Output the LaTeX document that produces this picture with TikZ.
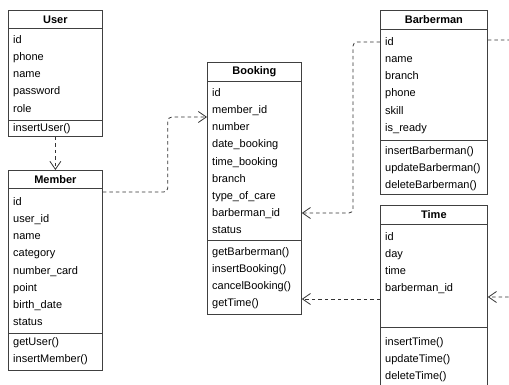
\documentclass[tikz,border=0pt]{standalone}
\usepackage{fontspec}
\setmainfont{Liberation Sans}
\usetikzlibrary{arrows.meta}

\tikzset{
    cls/.style={draw=black!75, line width=0.8pt, fill=white, anchor=north west, inner sep=0pt},
    ttl/.style={cls, font=\bfseries\fontsize{11}{13}\selectfont},
    rows/.style={anchor=north west, align=left, inner sep=0pt, font=\fontsize{11}{17.1}\selectfont},
    dep/.style={draw=black!80, line width=0.8pt, dash pattern=on 3.5pt off 3pt, rounded corners=4pt, -{Straight Barb[length=8pt, width=11pt]}}
}

\begin{document}
\begin{tikzpicture}[x=1pt, y=-1pt]
    \useasboundingbox (0,0) rectangle (509,385);
    \clip (0,0) rectangle (509,385);
    % User
    \node [ttl, minimum width=94pt, minimum height=18pt] (user) at (8,10) {User};
    \node [cls, minimum width=94pt, minimum height=92pt] (user-a) at (8,28) {};
    \node [cls, minimum width=94pt, minimum height=16pt] (user-m) at (8,120) {};
    \node [rows] (user-at) at ([xshift=5pt, yshift=-7.5pt]user-a.north west) {id\\phone\\name\\password\\role};
    \node [rows] (user-mt) at ([xshift=5pt, yshift=-3.5pt]user-m.north west) {insertUser()};
    % Member
    \node [ttl, minimum width=94pt, minimum height=18pt] (member) at (8,170) {Member};
    \node [cls, minimum width=94pt, minimum height=145pt] (member-a) at (8,188) {};
    \node [cls, minimum width=94pt, minimum height=37pt] (member-m) at (8,333) {};
    \node [rows] (member-at) at ([xshift=5pt, yshift=-9.5pt]member-a.north west) {id\\user\_id\\name\\category\\number\_card\\point\\birth\_date\\status};
    \node [rows] (member-mt) at ([xshift=5pt, yshift=-4.5pt]member-m.north west) {getUser()\\insertMember()};
    % Booking
    \node [ttl, minimum width=94pt, minimum height=19pt] (booking) at (207,62) {Booking};
    \node [cls, minimum width=94pt, minimum height=159pt] (booking-a) at (207,81) {};
    \node [cls, minimum width=94pt, minimum height=74pt] (booking-m) at (207,240) {};
    \node [rows] (booking-at) at ([xshift=5pt, yshift=-7.5pt]booking-a.north west) {id\\member\_id\\number\\date\_booking\\time\_booking\\branch\\type\_of\_care\\barberman\_id\\status};
    \node [rows] (booking-mt) at ([xshift=5pt, yshift=-7pt]booking-m.north west) {getBarberman()\\insertBooking()\\cancelBooking()\\getTime()};
    % Barberman
    \node [ttl, minimum width=107pt, minimum height=19pt] (barber) at (380,10) {Barberman};
    \node [cls, minimum width=107pt, minimum height=111pt] (barber-a) at (380,29) {};
    \node [cls, minimum width=107pt, minimum height=54pt] (barber-m) at (380,140) {};
    \node [rows] (barber-at) at ([xshift=5pt, yshift=-8.5pt]barber-a.north west) {id\\name\\branch\\phone\\skill\\is\_ready};
    \node [rows] (barber-mt) at ([xshift=5pt, yshift=-6.5pt]barber-m.north west) {insertBarberman()\\updateBarberman()\\deleteBarberman()};
    % Time
    \node [ttl, minimum width=107pt, minimum height=19pt] (time) at (380,205) {Time};
    \node [cls, minimum width=107pt, minimum height=103pt] (time-a) at (380,224) {};
    \node [cls, minimum width=107pt, minimum height=63pt] (time-m) at (380,327) {};
    \node [rows] (time-at) at ([xshift=5pt, yshift=-8pt]time-a.north west) {id\\day\\time\\barberman\_id};
    \node [rows] (time-mt) at ([xshift=5pt, yshift=-10.5pt]time-m.north west) {insertTime()\\updateTime()\\deleteTime()};
    % dependencies
    \draw [dep] (user-m.south) -- (member.north);
    \draw [dep] ([yshift=-4pt]member-a.north east) -- ++(65,0) |- ([yshift=-36pt]booking-a.north west);
    \draw [dep] ([yshift=-13pt]barber-a.north west) -- ++(-27,0) |- ([yshift=-132pt]booking-a.north east);
    \draw [dep] ([yshift=-75pt]time-a.north west) -- ([yshift=-75pt]time-a.north west -| booking-m.east);
    \draw [dep] ([yshift=-11pt]barber-a.north east) -- ++(30,0) |- ([yshift=-73pt]time-a.north east);
\end{tikzpicture}
\end{document}
